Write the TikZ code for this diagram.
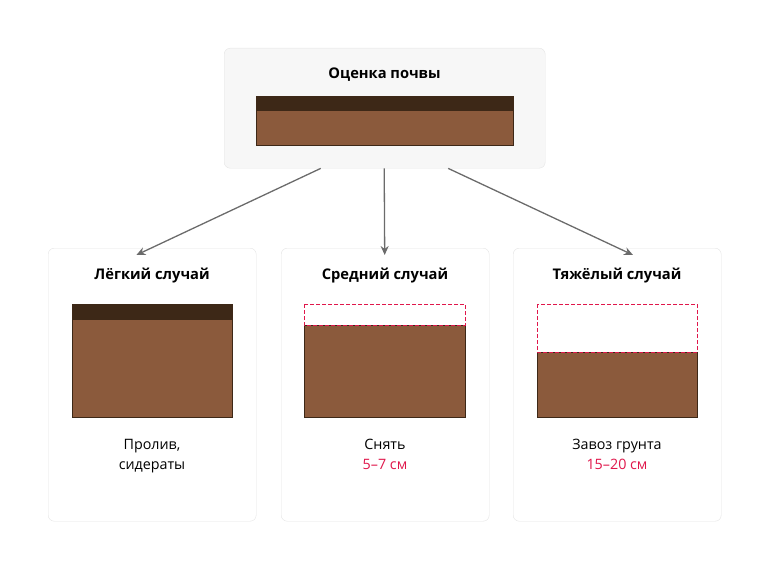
\documentclass[tikz,border=0pt]{standalone}
\usepackage{fontspec}
\setmainfont{Open Sans}
\usetikzlibrary{positioning,arrows.meta}
\definecolor{topsoil}{HTML}{3D2817}
\definecolor{soil}{HTML}{8B5A3C}
\definecolor{cut}{HTML}{E0174B}
\definecolor{panelbg}{HTML}{F7F7F7}
\definecolor{panelline}{HTML}{E4E4E4}
\tikzstyle{panel}=[rectangle, rounded corners=6pt, draw=panelline, fill=white, anchor=north west, inner sep=0pt]
\tikzstyle{title}=[font=\fontsize{14.7}{18}\selectfont\bfseries, anchor=center]
\tikzstyle{annot}=[font=\fontsize{14.3}{20}\selectfont, align=center, anchor=north]
\tikzstyle{layer}=[draw=topsoil, line width=0.6pt]
\tikzstyle{removed}=[draw=cut, dash pattern=on 4pt off 2pt, line width=1pt]
\tikzstyle{flow}=[draw=black!58, line width=1.3pt, -{Stealth[length=9pt,width=8pt]}]
\begin{document}
\begin{tikzpicture}[x=1pt,y=-1pt]
	\useasboundingbox (0,0) rectangle (770,578);

	% top panel
	\node[panel, fill=panelbg, minimum width=321pt, minimum height=120pt](top) at (224,48){};
	\node[title] (toptitle) at (384.5,75) {Оценка почвы};
	\fill[soil] (256,96) rectangle (513,145);
	\fill[topsoil] (256,96) rectangle (513,111);
	\draw[layer] (256,96) rectangle (513,145);

	% three cases
	\node[panel, minimum width=208pt, minimum height=273pt](light) at (48,248){};
	\node[panel, minimum width=208pt, minimum height=273pt](medium) at (281,248){};
	\node[panel, minimum width=208pt, minimum height=273pt](heavy) at (513,248){};

	\node[title] (lighttitle) at (152,276) {Лёгкий случай};
	\node[title] (mediumtitle) at (385,276) {Средний случай};
	\node[title] (heavytitle) at (617,276) {Тяжёлый случай};

	\fill[soil] (72,304) rectangle (232,417);
	\fill[topsoil] (72,304) rectangle (232,320);
	\draw[layer] (72,304) rectangle (232,417);

	\fill[soil] (304,325) rectangle (465,417);
	\draw[layer] (304,325) rectangle (465,417);
	\draw[removed] (304,304) rectangle (465,325);

	\fill[soil] (537,352) rectangle (697,417);
	\draw[layer] (537,352) rectangle (697,417);
	\draw[removed] (537,304) rectangle (697,352);

	\node[annot] (lighttext) at (152,435.5) {Пролив,\\сидераты};
	\node[annot] (mediumtext) at (385,435.5) {Снять\\\textcolor{cut}{5–7 см}};
	\node[annot] (heavytext) at (617,435.5) {Завоз грунта\\\textcolor{cut}{15–20 см}};

	\draw[flow] ([xshift=-64pt]top.south) -- ([xshift=-120pt,yshift=-7pt]light.north east);
	\draw[flow] ([xshift=-0.5pt]top.south) -- ([yshift=-7pt]medium.north -| top.south);
	\draw[flow] ([xshift=63.5pt]top.south) -- ([xshift=120pt,yshift=-7pt]heavy.north west);
\end{tikzpicture}
\end{document}
